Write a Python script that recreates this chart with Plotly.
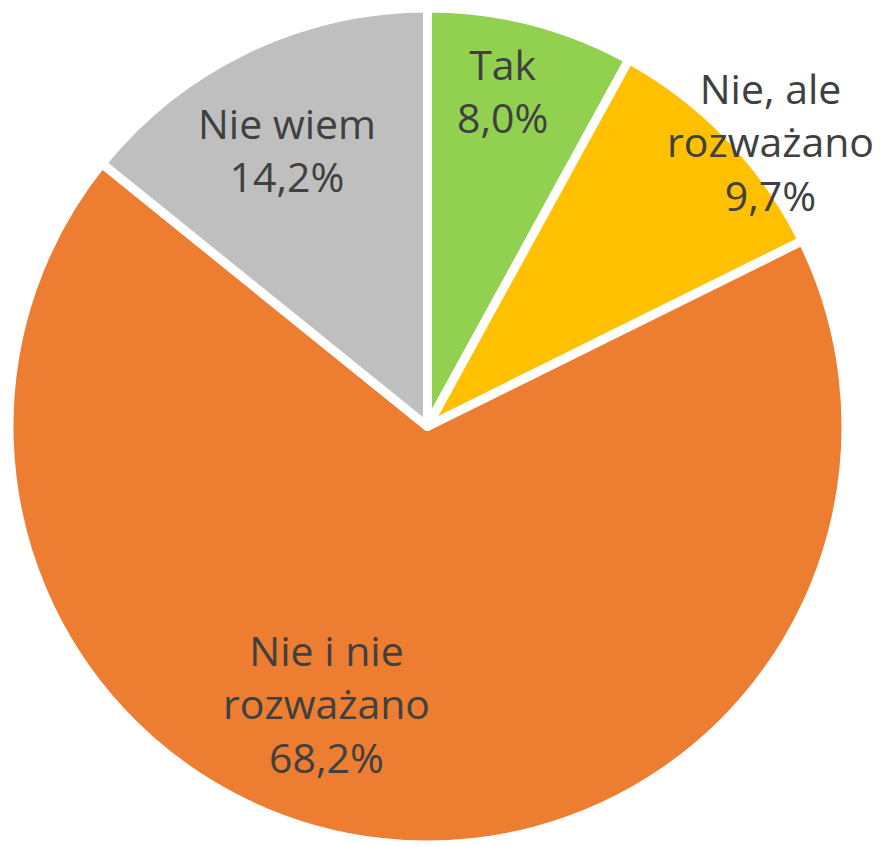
import plotly.graph_objects as go

# data
labels = ["Tak", "Nie, ale rozważano", "Nie i nie rozważano", "Nie wiem"]
label_lines = ["Tak", "Nie, ale<br>rozważano", "Nie i nie<br>rozważano", "Nie wiem"]
values = [8.0, 9.7, 68.2, 14.2]
colors = ["#92D050", "#FFC000", "#ED7D31", "#BFBFBF"]

W, H = 882, 847
# the page body has an 8px margin, so figure pixels sit 8px right/down on screen

fig = go.Figure(go.Pie(
    labels=labels,
    values=values,
    sort=False,
    direction="clockwise",
    rotation=0,
    marker=dict(colors=colors, line=dict(color="white", width=9)),
    textinfo="none",
    hoverinfo="label+percent",
    showlegend=False,
    domain=dict(x=[1 / W, 838 / W], y=[1 - 837 / H, 1]),
))

# label placement in figure pixels (Excel "best fit" positions)
label_pos = [(494, 82), (762, 133), (318, 695), (279, 141)]
for name, v, (px_, py_) in zip(label_lines, values, label_pos):
    txt = name + "<br>" + f"{v:.1f}".replace(".", ",") + "%"
    fig.add_annotation(
        x=px_ / W, y=1 - py_ / H, xref="paper", yref="paper",
        text=txt, showarrow=False, align="center",
        xanchor="center", yanchor="middle",
        font=dict(family="Open Sans", size=41, color="#404040"),
    )

fig.update_layout(
    width=W, height=H,
    margin=dict(l=0, r=0, t=0, b=0),
    paper_bgcolor="white",
    plot_bgcolor="white",
)

fig.write_html("out.html")
